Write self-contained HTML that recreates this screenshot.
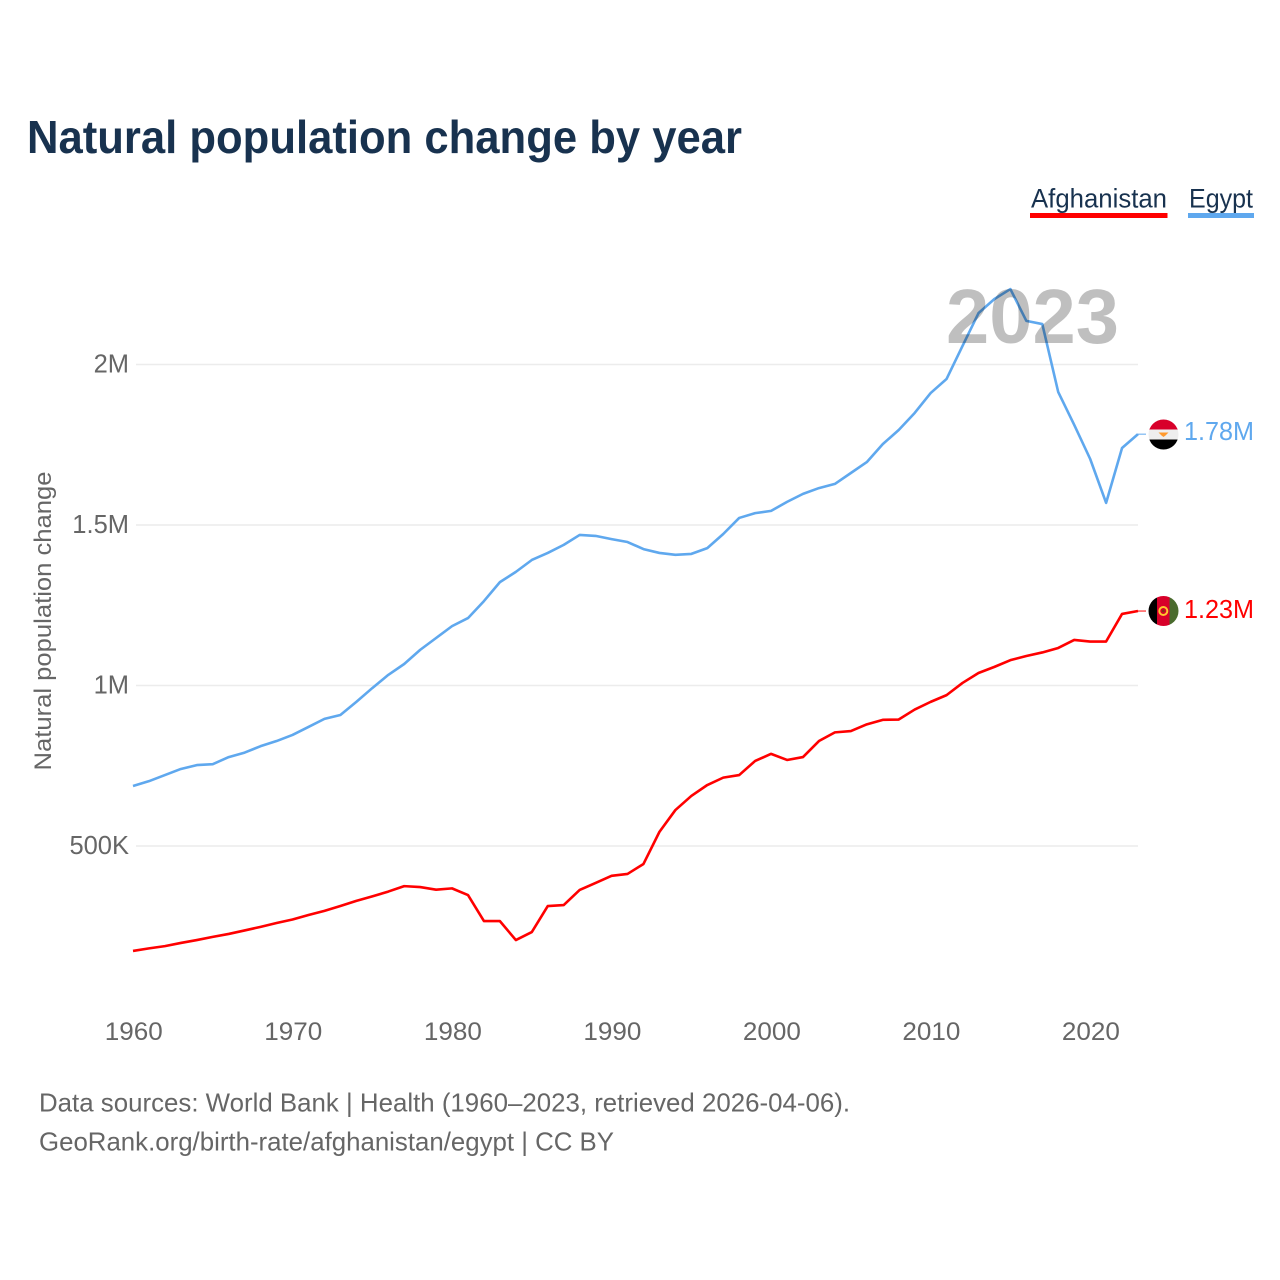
<!DOCTYPE html>
<html lang="en">
<head>
<meta charset="utf-8">
<title>Natural population change by year</title>
<style>
html,body{margin:0;padding:0;background:#fff;}
svg{display:block;}
text{font-family:"Liberation Sans",sans-serif;}
</style>
</head>
<body>
<svg id="chart" xmlns="http://www.w3.org/2000/svg" width="1280" height="1280" viewBox="0 0 1280 1280">
  <rect x="0" y="0" width="1280" height="1280" fill="#fff"/>
  <text x="27" y="153" font-size="46" font-weight="700" fill="#18324f" textLength="715" lengthAdjust="spacingAndGlyphs">Natural population change by year</text>

  <g>
    <text x="1031" y="207.500" font-size="27" fill="#18324f" textLength="136" lengthAdjust="spacingAndGlyphs">Afghanistan</text>
    <rect x="1030" y="213" width="137.500" height="5" fill="#ff0000"/>
  </g>
  <g>
    <text x="1189" y="207.500" font-size="27" fill="#18324f" textLength="64" lengthAdjust="spacingAndGlyphs">Egypt</text>
    <rect x="1188" y="213" width="66" height="5" fill="#5fa8ee"/>
  </g>

  <g id="grid"></g>
  <g id="yLabels"></g>
  <g id="xLabels"></g>
  <text transform="translate(51 621) rotate(-90)" text-anchor="middle" font-size="24.500" fill="#666666" textLength="299" lengthAdjust="spacingAndGlyphs">Natural population change</text>
  <g id="series"></g>

  <text x="946" y="343" font-size="77" font-weight="700" fill="#000" fill-opacity="0.25" textLength="173" lengthAdjust="spacingAndGlyphs">2023</text>

  <defs>
    <clipPath id="flagClipE"><circle cx="1163.500" cy="434.500" r="15"/></clipPath>
    <clipPath id="flagClipA"><circle cx="1163.500" cy="611" r="15"/></clipPath>
  </defs>
  <g clip-path="url(#flagClipE)">
    <rect x="1148" y="419" width="31" height="11" fill="#d8002a"/>
    <rect x="1148" y="429.500" width="31" height="10" fill="#eeeeee"/>
    <rect x="1148" y="439.500" width="31" height="11" fill="#000"/>
    <path d="M1158.500 432.500h10l-3 3-2 1.500-2-1.500z" fill="#ff9a2e"/>
  </g>
  <g clip-path="url(#flagClipA)">
    <rect x="1148" y="596" width="9" height="30" fill="#000"/>
    <rect x="1157" y="596" width="12.500" height="30" fill="#d8002a"/>
    <rect x="1169.500" y="596" width="10" height="30" fill="#4a6b2e"/>
    <circle cx="1163.300" cy="611" r="4" fill="none" stroke="#ffc62e" stroke-width="2"/>
    <circle cx="1163.300" cy="611" r="1.300" fill="#7a3a10"/>
  </g>
  <text x="1184" y="440" font-size="26" fill="#5fa8ee" textLength="70" lengthAdjust="spacingAndGlyphs">1.78M</text>
  <text x="1184" y="618" font-size="26" fill="#ff0000" textLength="70" lengthAdjust="spacingAndGlyphs">1.23M</text>

  <text x="39" y="1111.500" font-size="26" fill="#666666" textLength="811" lengthAdjust="spacingAndGlyphs">Data sources: World Bank | Health (1960–2023, retrieved 2026-04-06).</text>
  <text x="39" y="1150.500" font-size="26" fill="#666666" textLength="575" lengthAdjust="spacingAndGlyphs">GeoRank.org/birth-rate/afghanistan/egypt | CC BY</text>
</svg>
<script>
const firstYear = 1960;
const xTickYears = [1960, 1970, 1980, 1990, 2000, 2010, 2020];
const yTickValues = [500000, 1000000, 1500000, 2000000];
const yTickLabels = ["500K", "1M", "1.5M", "2M"];
const egyptValues = [0.687,0.702,0.721,0.740,0.752,0.755,0.777,0.791,0.811,0.827,0.846,0.871,0.896,0.908,0.949,0.992,1.033,1.067,1.111,1.148,1.185,1.210,1.263,1.322,1.354,1.391,1.413,1.438,1.469,1.466,1.456,1.447,1.425,1.413,1.407,1.410,1.428,1.472,1.522,1.537,1.544,1.572,1.597,1.615,1.628,1.662,1.696,1.752,1.796,1.849,1.911,1.955,2.058,2.160,2.204,2.235,2.136,2.126,1.914,1.812,1.706,1.569,1.740,1.783];
const afghanistanValues = [0.173,0.181,0.188,0.198,0.207,0.217,0.226,0.237,0.248,0.260,0.271,0.285,0.298,0.313,0.329,0.343,0.358,0.375,0.372,0.364,0.368,0.347,0.266,0.266,0.207,0.232,0.313,0.316,0.363,0.385,0.407,0.413,0.444,0.544,0.612,0.656,0.690,0.713,0.721,0.765,0.787,0.768,0.777,0.827,0.854,0.858,0.879,0.893,0.894,0.925,0.949,0.970,1.008,1.039,1.058,1.079,1.092,1.103,1.117,1.142,1.137,1.137,1.223,1.232];

const NS = "http://www.w3.org/2000/svg";
function xScale(year) { return 133 + (year - 1960) * (1138 - 133) / 63; }
function yScale(value) { return 1006.5 - value * 321 / 1000000; }
function make(tag, attrs, parent) {
  const el = document.createElementNS(NS, tag);
  for (const k in attrs) el.setAttribute(k, attrs[k]);
  parent.appendChild(el);
  return el;
}
const gridGroup = document.getElementById("grid");
const yGroup = document.getElementById("yLabels");
const xGroup = document.getElementById("xLabels");
const seriesGroup = document.getElementById("series");

yTickValues.forEach(function (v, i) {
  const y = yScale(v);
  const line = make("line", {x1: 136, x2: 1138, y1: y, y2: y, stroke: "#ececec", "stroke-width": 1.5}, gridGroup);
  
  
  const t = make("text", {x: 129, y: y + 8, "text-anchor": "end", "font-size": 25.5, fill: "#666666"}, yGroup);
  
  
  t.textContent = yTickLabels[i];
});
xTickYears.forEach(function (yr) {
  const t = make("text", {x: xScale(yr) + 0.8, y: 1040, "text-anchor": "middle", "font-size": 25, fill: "#666666", textLength: 58, lengthAdjust: "spacingAndGlyphs"}, xGroup);
  
  
  t.textContent = String(yr);
});
function linePoints(values) {
  return values.map(function (v, i) {
    return xScale(firstYear + i).toFixed(2) + "," + yScale(v * 1000000).toFixed(2);
  }).join(" ");
}
const egyptLine = make("polyline", {points: linePoints(egyptValues), fill: "none", stroke: "#5fa8ee", "stroke-width": 2.6, "stroke-linejoin": "round"}, seriesGroup);


const afghanistanLine = make("polyline", {points: linePoints(afghanistanValues), fill: "none", stroke: "#ff0000", "stroke-width": 2.6, "stroke-linejoin": "round"}, seriesGroup);



const lastYear = firstYear + egyptValues.length - 1;
const egyptConnector = make("line", {x1: xScale(lastYear), x2: 1146, y1: yScale(egyptValues[egyptValues.length - 1] * 1000000), y2: yScale(egyptValues[egyptValues.length - 1] * 1000000), stroke: "#5fa8ee", "stroke-width": 1}, seriesGroup);


const afghanistanConnector = make("line", {x1: xScale(lastYear), x2: 1146, y1: yScale(afghanistanValues[afghanistanValues.length - 1] * 1000000), y2: yScale(afghanistanValues[afghanistanValues.length - 1] * 1000000), stroke: "#ff0000", "stroke-width": 1}, seriesGroup);


</script>
</body>
</html>
